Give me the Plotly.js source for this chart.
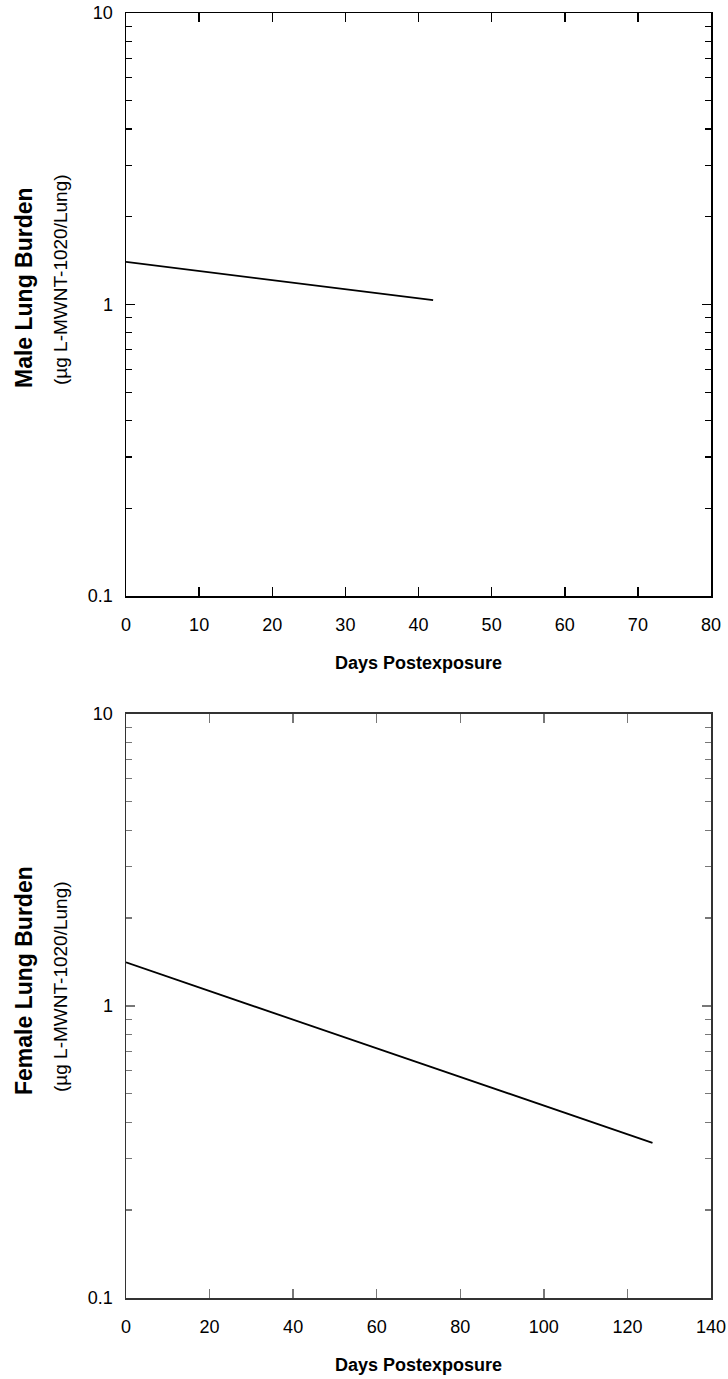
<!DOCTYPE html>
<html>
<head>
<meta charset="utf-8">
<script src="https://cdn.plot.ly/plotly-3.0.1.min.js"></script>
<style>
  html, body { margin: 0; padding: 0; background: #fff; }
  #chart { width: 728px; height: 1379px; }
</style>
</head>
<body>
<div id="chart"></div>
<script>
// Data
const maleDays = [0, 42];
const maleBurden = [1.40, 1.035];
const femaleDays = [0, 126];
const femaleBurden = [1.41, 0.34];

const maleXTicks = [0, 10, 20, 30, 40, 50, 60, 70, 80];
const femaleXTicks = [0, 20, 40, 60, 80, 100, 120, 140];
const yTickVals = [0.1, 1, 10];
const yTickText = ['0.1', '1', '10'];

const maleYTitle = 'Male Lung Burden';
const femaleYTitle = 'Female Lung Burden';
const yUnits = '(µg L-MWNT-1020/Lung)';
const xTitle = 'Days Postexposure';

const FONT = 'Liberation Sans, Arial, sans-serif';

const traces = [
  { x: maleDays, y: maleBurden, xaxis: 'x', yaxis: 'y', mode: 'lines',
    line: { color: '#000', width: 1.8 }, showlegend: false, hoverinfo: 'skip' },
  { x: femaleDays, y: femaleBurden, xaxis: 'x2', yaxis: 'y2', mode: 'lines',
    line: { color: '#000', width: 1.8 }, showlegend: false, hoverinfo: 'skip' }
];

function xAxis(ticks, range, anchor, tcol, lcol) {
  return {
    anchor: anchor, range: range, tickvals: ticks, ticktext: ticks.map(String),
    ticks: 'inside', ticklen: 9, tickwidth: 1.5, tickcolor: tcol,
    showline: true, linecolor: lcol, linewidth: 1.5, mirror: 'ticks',
    showgrid: false, zeroline: false,
    ticklabelstandoff: 12,
    tickfont: { family: FONT, size: 18, color: '#000' },
    title: { text: '<b>' + xTitle + '</b>', font: { family: FONT, size: 18, color: '#000' }, standoff: 22 }
  };
}
function yAxis(domain, anchor, tcol, lcol) {
  return {
    type: 'log', domain: domain, anchor: anchor, range: [-1, 1],
    tickvals: yTickVals, ticktext: yTickText,
    ticks: 'inside', ticklen: 9, tickwidth: 1.5, tickcolor: tcol,
    minor: { ticks: 'inside', ticklen: 6, tickwidth: 1.2, tickcolor: tcol,
             tickvals: [0.2,0.3,0.4,0.5,0.6,0.7,0.8,0.9,2,3,4,5,6,7,8,9], showgrid: false },
    showline: true, linecolor: lcol, linewidth: 1.5, mirror: 'ticks',
    showgrid: false, zeroline: false,
    ticklabelstandoff: 8,
    tickfont: { family: FONT, size: 18, color: '#000' }
  };
}

// paper coords: plot area x 126..711 (585 px), y 13..1298 (1285 px)
const px = v => (v - 126) / 585;
const py = v => (1298 - v) / 1285;

const layout = {
  width: 728, height: 1379,
  margin: { l: 126, r: 17, t: 13, b: 81 },
  paper_bgcolor: '#fff', plot_bgcolor: '#fff',
  xaxis: Object.assign(xAxis(maleXTicks, [0, 80], 'y', '#000', '#000'), { domain: [0, 1] }),
  yaxis: yAxis([0.5463, 1], 'x', '#000', '#000'),
  xaxis2: Object.assign(xAxis(femaleXTicks, [0, 140], 'y2', '#777', '#333'), { domain: [0, 1] }),
  yaxis2: yAxis([0, 0.4545], 'x2', '#777', '#333'),
  annotations: [
    { text: '<b>' + maleYTitle + '</b>', xref: 'paper', yref: 'paper', x: px(24), y: py(288),
      xanchor: 'center', yanchor: 'middle', textangle: -90, showarrow: false,
      font: { family: FONT, size: 23, color: '#000' } },
    { text: yUnits, xref: 'paper', yref: 'paper', x: px(60), y: py(280),
      xanchor: 'center', yanchor: 'middle', textangle: -90, showarrow: false,
      font: { family: FONT, size: 19, color: '#000' } },
    { text: '<b>' + femaleYTitle + '</b>', xref: 'paper', yref: 'paper', x: px(24), y: py(981),
      xanchor: 'center', yanchor: 'middle', textangle: -90, showarrow: false,
      font: { family: FONT, size: 23, color: '#000' } },
    { text: yUnits, xref: 'paper', yref: 'paper', x: px(60), y: py(987),
      xanchor: 'center', yanchor: 'middle', textangle: -90, showarrow: false,
      font: { family: FONT, size: 19, color: '#000' } }
  ]
};

Plotly.newPlot('chart', traces, layout, { staticPlot: true, displayModeBar: false });
</script>
</body>
</html>
